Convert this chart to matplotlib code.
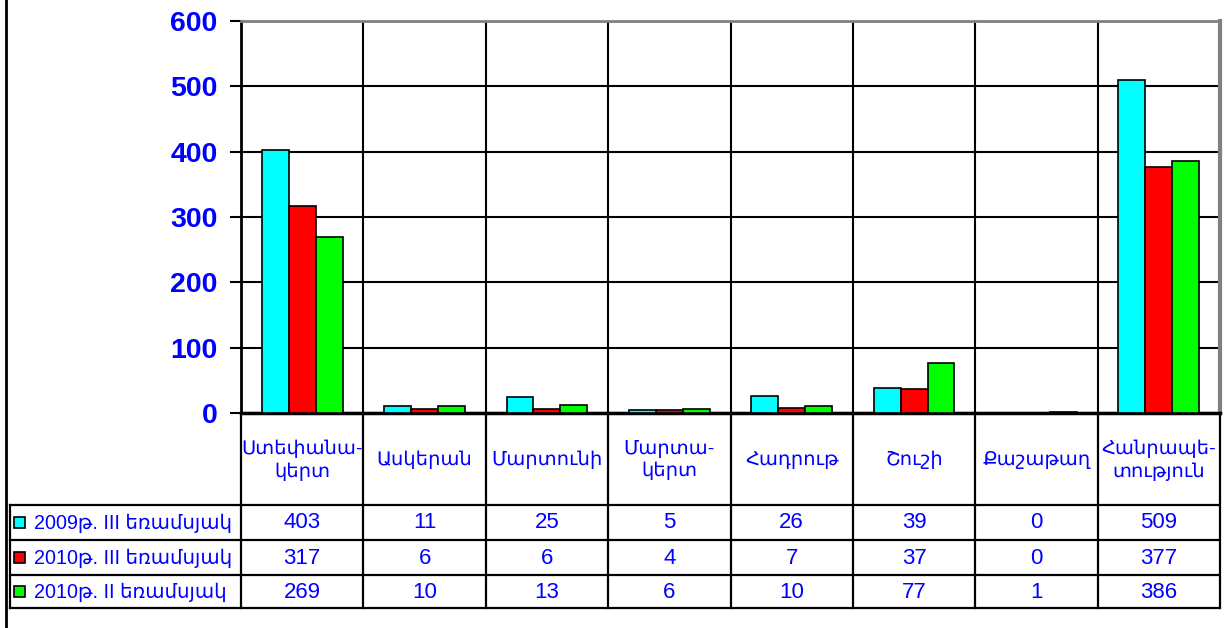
import numpy as np
import matplotlib
matplotlib.use('Agg')
from matplotlib import pyplot as plt
from matplotlib import transforms

# data
regions = ['Ստեփանա-\nկերտ', 'Ասկերան', 'Մարտունի', 'Մարտա-\nկերտ',
           'Հադրութ', 'Շուշի', 'Քաշաթաղ', 'Հանրապե-\nտություն']
series_names = ['2009թ. III եռամսյակ', '2010թ. III եռամսյակ', '2010թ. II եռամսյակ']
q3_2009 = [403, 11, 25, 5, 26, 39, 0, 509]
q3_2010 = [317, 6, 6, 4, 7, 37, 0, 377]
q2_2010 = [269, 10, 13, 6, 10, 77, 1, 386]
y_ticks = [0, 100, 200, 300, 400, 500, 600]

colors = ['#00ffff', '#ff0000', '#00ff00']
BLUE = '#0000ff'
FONT = ['Liberation Sans', 'DejaVu Sans']
plt.rcParams['font.family'] = FONT

W, H = 1225, 628
fig = plt.figure(figsize=(W / 100, H / 100), dpi=100)

# overlay in pixel coords (y down) for the table and frame
over = fig.add_axes([0, 0, 1, 1], zorder=5)
over.set_xlim(0, W)
over.set_ylim(H, 0)
over.axis('off')
over.patch.set_alpha(0)

ax = fig.add_axes([241 / W, (H - 413) / H, (1220 - 241) / W, (413 - 21) / H])

### bars
series = [q3_2009, q3_2010, q2_2010]
x = np.arange(len(regions))
bw = 0.22
for i, (vals, c) in enumerate(zip(series, colors)):
    ax.bar(x + (i - 1) * bw, vals, bw, color=c, edgecolor='black', linewidth=1.2, zorder=3)

ax.set_xlim(-0.5, len(regions) - 0.5)
ax.set_ylim(0, 600)
ax.set_yticks(y_ticks)
ax.set_xticks([])
ax.yaxis.grid(True, color='black', linewidth=1.5, zorder=1)
ax.vlines(x[:-1] + 0.5, 0, 600, color='black', linewidth=1.5, zorder=1)
ax.tick_params(axis='y', length=8, width=1.5, pad=9, labelcolor=BLUE, labelsize=20.5)
for lbl in ax.get_yticklabels():
    lbl.set_fontweight('bold')

ax.spines['left'].set_linewidth(2)
ax.spines['bottom'].set_linewidth(2.5)
ax.spines['top'].set_color('#808080')
ax.spines['top'].set_linewidth(2)
ax.spines['right'].set_color('#808080')
ax.spines['right'].set_linewidth(3)

### table under the chart
tr = transforms.blended_transform_factory(ax.transData, over.transData)
row_lines = [505, 540, 575, 608]
row_mid = [523, 558, 592]

for k in range(len(regions) + 1):
    over.plot([k - 0.5, k - 0.5], [413, 608], color='black', lw=1.6, transform=tr)
over.plot([10, 10], [505, 608], color='black', lw=1.6)
for y in row_lines:
    over.plot([10, 1219], [y, y], color='black', lw=1.6)

for k, name in enumerate(regions):
    over.text(k, 460, name, transform=tr, ha='center', va='center', color=BLUE,
              fontsize=14, linespacing=1.3)

for r, (vals, c, name) in enumerate(zip(series, colors, series_names)):
    y = row_mid[r]
    over.add_patch(plt.Rectangle((14, y - 6), 11, 11, facecolor=c, edgecolor='black', lw=1.2))
    over.text(34, y, name, ha='left', va='center', color=BLUE, fontsize=14.2)
    for k, v in enumerate(vals):
        over.text(k, y, str(v), transform=tr, ha='center', va='center', color=BLUE, fontsize=16)

# outer frame on the left
over.plot([6, 6], [0, H], color='black', lw=2)

fig.savefig('out.png', dpi=100)
